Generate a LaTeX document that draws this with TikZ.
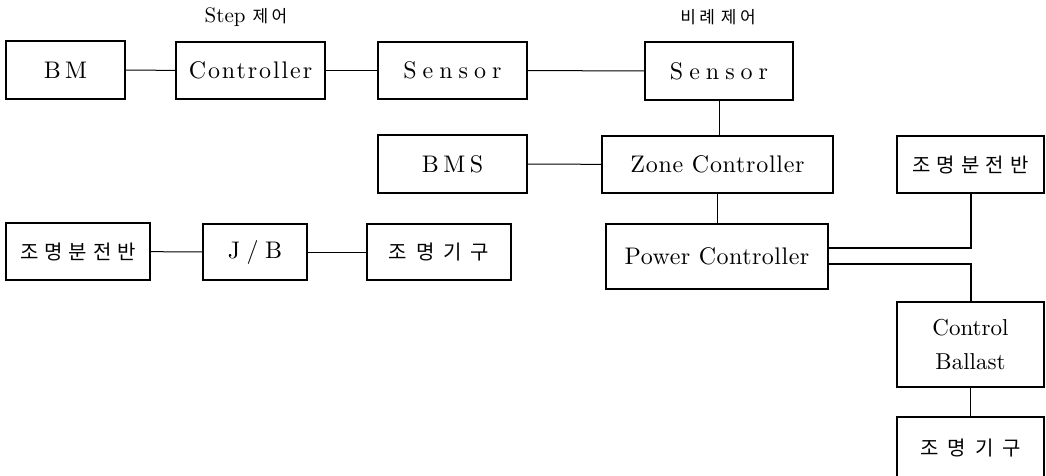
\documentclass[tikz,border=0pt]{standalone}
\usepackage{fontspec}
\usetikzlibrary{calc}
\setmainfont{lmroman10-regular.otf}
\newfontfamily\kr{Noto Sans CJK KR}
\newcommand{\lat}[2]{\fontsize{#1}{30}\selectfont\addfontfeatures{LetterSpace=#2}}
\begin{document}
\begin{tikzpicture}[x=1pt,y=-1pt,
  box/.style={draw,line width=1.1pt,inner sep=0pt,outer sep=0pt,anchor=north west,align=center},
  sp/.style={font=\lat{24}{#1}},
  krbox/.style={font=\fontsize{20}{26}\selectfont\kr\addfontfeatures{LetterSpace=#1}},
  krlab/.style={font=\fontsize{17}{20}\selectfont\kr\addfontfeatures{LetterSpace=20}},
  wire/.style={line width=1pt},
  thickwire/.style={line width=2pt},
  lab/.style={font=\fontsize{21}{24}\selectfont}]
\useasboundingbox (0,0) rectangle (1046,475);
% top row
\node[box,sp=17,minimum width=119pt,minimum height=58pt] (bm) at (6,41) {BM};
\node[box,sp=8,minimum width=149pt,minimum height=57pt] (ctrl) at (176,42) {Controller};
\node[box,sp=25,minimum width=149pt,minimum height=57pt] (sen1) at (378,42) {Sensor};
\node[box,sp=25,minimum width=148pt,minimum height=58pt] (sen2) at (645,42) {Sensor};
\node[lab] (l1) at (246,17) {Step\hspace{7pt}{\kr\fontsize{17}{20}\selectfont\addfontfeatures{LetterSpace=20}제어}};
\node[krlab] (l2) at (718,17) {비례\hspace{6pt}제어};
% second row
\node[box,sp=19,minimum width=149pt,minimum height=58pt] (bms) at (378,135) {BMS};
\node[box,sp=3,minimum width=231pt,minimum height=57pt] (zone) at (602,136) {Zone Controller};
\node[box,krbox=30,minimum width=147pt,minimum height=57pt] (pdr) at (897,136) {조명분전반};
% third row
\node[box,krbox=30,minimum width=144pt,minimum height=57pt] (pdl) at (6,223) {조명분전반};
\node[box,sp=27,minimum width=104pt,minimum height=56pt] (jb) at (203,224) {J/B};
\node[box,krbox=45,minimum width=144pt,minimum height=56pt] (lum1) at (367,224) {조명기구};
\node[box,sp=2,minimum width=222pt,minimum height=65pt] (pc) at (606,224) {Power Controller};
% right column
\node[box,font=\fontsize{23}{34}\selectfont,minimum width=147pt,minimum height=85pt] (cb) at (897,302) {Control\\Ballast};
\node[box,krbox=45,minimum width=147pt,minimum height=62pt] (lum2) at (897,417) {조명기구};
% connectors
\draw[wire] (bm) -- (ctrl);
\draw[wire] (ctrl) -- (sen1);
\draw[wire] (sen1) -- (sen2);
\draw[wire] (sen2.south) -- (sen2.south |- zone.north);
\draw[wire] (bms) -- (zone);
\draw[wire] (zone.south) -- (zone.south |- pc.north);
\draw[wire] (pdl) -- (jb);
\draw[wire] (jb) -- (lum1);
\coordinate (pa) at ($(pc.north east)+(0,24)$);
\coordinate (pb) at ($(pc.north east)+(0,40)$);
\draw[thickwire] (pa) -| (pdr.south);
\draw[thickwire] (pb) -| (cb.north);
\draw[wire] (cb.south) -- (lum2.north);
\end{tikzpicture}
\end{document}
